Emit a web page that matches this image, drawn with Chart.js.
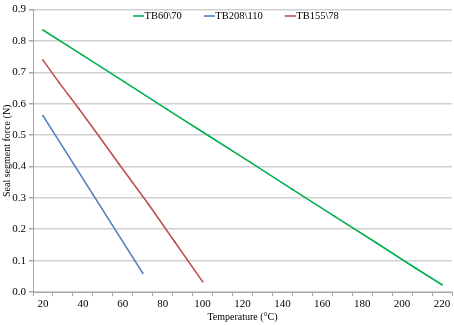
<!DOCTYPE html>
<html>
<head>
<meta charset="utf-8">
<script src="https://cdn.jsdelivr.net/npm/chart.js@4/dist/chart.umd.min.js"></script>
<style>
  html, body { margin: 0; padding: 0; background: #ffffff; }
  #wrap { position: relative; width: 454px; height: 325px; }
</style>
</head>
<body>
<div id="wrap"><canvas id="c" width="454" height="325"></canvas></div>
<script>
// ---- Data ----
const seriesNames = ["TB60\\70", "TB208\\110", "TB155\\78"];
const seriesColors = ["#00b050", "#4f81bd", "#c0504d"];

const tempTB60 = [20, 40, 61, 82, 103, 124, 145, 166, 187, 207, 220];
const forceTB60 = [0.835, 0.754, 0.669, 0.583, 0.498, 0.413, 0.327, 0.242, 0.157, 0.075, 0.023];

const tempTB208 = [20, 45, 70];
const forceTB208 = [0.562, 0.311, 0.060];

const tempTB155 = [20, 28, 38, 48, 58, 73, 86, 100];
const forceTB155 = [0.739, 0.668, 0.584, 0.497, 0.409, 0.279, 0.160, 0.033];

const xLabelValues = [20, 40, 60, 80, 100, 120, 140, 160, 180, 200, 220];
const yTickValues = [0.0, 0.1, 0.2, 0.3, 0.4, 0.5, 0.6, 0.7, 0.8, 0.9];

const xTitle = "Temperature (\u00B0C)";
const yTitle = "Seal segment force (N)";

// ---- Build datasets ----
function pts(xs, ys) { return xs.map((x, i) => ({ x: x, y: ys[i] })); }
const allX = [tempTB60, tempTB208, tempTB155];
const allY = [forceTB60, forceTB208, forceTB155];

const datasets = seriesNames.map((name, i) => ({
  label: name,
  data: pts(allX[i], allY[i]),
  borderColor: seriesColors[i],
  backgroundColor: seriesColors[i],
  borderWidth: 1.6,
  pointRadius: 0.7,
  pointBorderWidth: 0.5,
  pointHoverRadius: 0.7,
  tension: 0,
  fill: false
}));

const FONT = "'Liberation Serif', 'Times New Roman', serif";

// custom legend drawn inside the plot area
const insideLegend = {
  id: 'insideLegend',
  afterDatasetsDraw(chart) {
    const ctx = chart.ctx;
    ctx.save();
    ctx.font = "10.5px " + FONT;
    ctx.textBaseline = 'middle';
    ctx.fillStyle = '#000';
    const y = 16;
    let x = 133;
    chart.data.datasets.forEach((ds) => {
      ctx.strokeStyle = ds.borderColor;
      ctx.lineWidth = 1.6;
      ctx.beginPath();
      ctx.moveTo(x, y);
      ctx.lineTo(x + 11, y);
      ctx.stroke();
      ctx.fillText(ds.label, x + 11.5, y + 0.5);
      x += 11.5 + ctx.measureText(ds.label).width + 22;
    });
    ctx.restore();
  }
};

const xTicksAll = [];
for (let v = 15; v <= 225; v += 5) xTicksAll.push(v);

new Chart(document.getElementById('c'), {
  type: 'line',
  data: { datasets: datasets },
  options: {
    responsive: false,
    animation: false,
    events: [],
    layout: { padding: { top: 5, right: 1, left: 1, bottom: 0 } },
    plugins: {
      legend: { display: false },
      tooltip: { enabled: false }
    },
    scales: {
      x: {
        type: 'linear',
        min: 15,
        max: 225,
        afterBuildTicks(axis) {
          axis.ticks = xTicksAll.map(v => ({ value: v }));
        },
        afterFit(axis) { axis.height = 33; },
        ticks: {
          autoSkip: false,
          maxRotation: 0,
          padding: 2,
          color: '#000',
          font: { family: FONT, size: 11 },
          callback: (v) => xLabelValues.includes(v) ? String(v) : ''
        },
        grid: {
          drawOnChartArea: false,
          tickLength: 4,
          tickColor: (ctx) => (ctx.tick && ((ctx.tick.value - 15) % 10 === 0)) ? '#a6a6a6' : 'rgba(0,0,0,0)',
          lineWidth: 1
        },
        border: { display: true, color: '#a6a6a6', width: 1 },
        title: {
          display: true,
          text: xTitle,
          color: '#000',
          font: { family: FONT, size: 10 },
          padding: { top: 0, bottom: 2 }
        }
      },
      y: {
        type: 'linear',
        min: 0,
        max: 0.9,
        afterBuildTicks(axis) {
          axis.ticks = yTickValues.map(v => ({ value: v }));
        },
        afterFit(axis) { axis.width = 32; },
        ticks: {
          padding: 3,
          color: '#000',
          font: { family: FONT, size: 11 },
          callback: (v) => Number(v).toFixed(1)
        },
        grid: {
          color: '#d0d0d0',
          lineWidth: 1.5,
          tickLength: 4,
          tickColor: '#a6a6a6'
        },
        border: { display: true, color: '#a6a6a6', width: 1 },
        title: {
          display: true,
          text: yTitle,
          color: '#000',
          font: { family: FONT, size: 10 },
          padding: { top: 0, bottom: 0 }
        }
      }
    }
  },
  plugins: [insideLegend]
});
</script>
</body>
</html>
